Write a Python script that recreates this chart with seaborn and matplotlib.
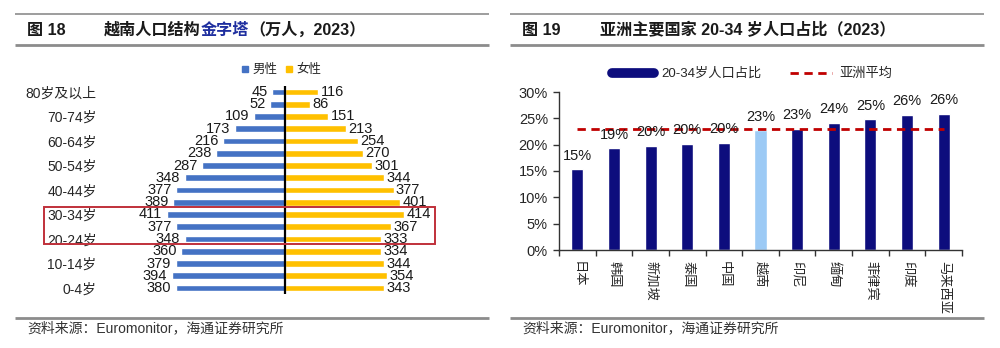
import matplotlib
matplotlib.use("Agg")
import matplotlib.pyplot as plt
import seaborn as sns
import pandas as pd
from matplotlib.lines import Line2D
from matplotlib.patches import Rectangle

# ---------------- data ----------------
age_groups = ["80岁及以上", "75-79岁", "70-74岁", "65-69岁", "60-64岁", "55-59岁",
              "50-54岁", "45-49岁", "40-44岁", "35-39岁", "30-34岁", "25-29岁",
              "20-24岁", "15-19岁", "10-14岁", "5-9岁", "0-4岁"]
male = [45, 52, 109, 173, 216, 238, 287, 348, 377, 389, 411, 377, 348, 360, 379, 394, 380]
female = [116, 86, 151, 213, 254, 270, 301, 344, 377, 401, 414, 367, 333, 334, 344, 354, 343]
shown_age_labels = ["80岁及以上", "70-74岁", "60-64岁", "50-54岁", "40-44岁",
                    "30-34岁", "20-24岁", "10-14岁", "0-4岁"]

countries = ["日本", "韩国", "新加坡", "泰国", "中国", "越南", "印尼", "缅甸", "菲律宾", "印度", "马来西亚"]
share = [0.153, 0.193, 0.197, 0.202, 0.204, 0.227, 0.230, 0.242, 0.248, 0.256, 0.258]
share_labels = ["15%", "19%", "20%", "20%", "20%", "23%", "23%", "24%", "25%", "26%", "26%"]
asia_avg = 0.230
y_ticks = [0, 0.05, 0.10, 0.15, 0.20, 0.25, 0.30]
y_tick_labels = ["0%", "5%", "10%", "15%", "20%", "25%", "30%"]

# ---------------- style ----------------
sns.set_theme(style="white")
FONT = ["Liberation Sans", "Noto Sans CJK SC", "DejaVu Sans"]
plt.rcParams["font.family"] = FONT
plt.rcParams["axes.unicode_minus"] = False

W, H = 1000, 348
fig = plt.figure(figsize=(W / 100, H / 100), dpi=100)
fig.patch.set_facecolor("white")


def fx(px):
    return px / W


def fy(py):
    return (H - py) / H


def hline(x0, x1, y, lw, color="#8c8c8c"):
    fig.add_artist(Line2D([fx(x0), fx(x1)], [fy(y), fy(y)], transform=fig.transFigure,
                          color=color, lw=lw, solid_capstyle="butt"))


# header / footer rules
for (a, b) in [(15, 489), (510, 984)]:
    hline(a, b, 14, 1.2)
    hline(a, b, 45, 2.0)
    hline(a, b, 318, 2.0)

TITLE_KW = dict(fontsize=11.6, fontweight="bold", va="center", color="#1a1a1a")
fig.text(fx(27), fy(30), "图 18", **TITLE_KW)
t1 = fig.text(fx(104), fy(30), "越南人口结构", **TITLE_KW)
fig.canvas.draw()
r = fig.canvas.get_renderer()
bb = t1.get_window_extent(r)
t2 = fig.text(bb.x1 / W, fy(30), "金字塔", **{**TITLE_KW, "color": "#1f2f9f"})
bb2 = t2.get_window_extent(r)
fig.text(bb2.x1 / W, fy(30), "（万人，2023）", **TITLE_KW)

fig.text(fx(522), fy(30), "图 19", **TITLE_KW)
fig.text(fx(600), fy(30), "亚洲主要国家 20-34 岁人口占比（2023）", **TITLE_KW)

SRC_KW = dict(fontsize=10, va="center", color="#333333")
fig.text(fx(27), fy(328), "资料来源：Euromonitor，海通证券研究所", **SRC_KW)
fig.text(fx(522), fy(328), "资料来源：Euromonitor，海通证券研究所", **SRC_KW)

# ---------------- left: population pyramid ----------------
MALE_C, FEMALE_C = "#4472C4", "#FFC000"
row_px = (288 - 92) / 16
ax1 = fig.add_axes([fx(105), fy(288 + row_px / 2), 0.36, (row_px * 17) / H])
df = pd.DataFrame({
    "age": age_groups * 2,
    "val": [-v for v in male] + female,
    "sex": ["男性"] * len(male) + ["女性"] * len(female),
})
sns.barplot(data=df, x="val", y="age", hue="sex", order=age_groups, orient="h",
            dodge=False, width=0.55, palette={"男性": MALE_C, "女性": FEMALE_C},
            legend=False, ax=ax1, saturation=1)
ax1.set_xlim(-625, 625)
ax1.set_ylim(16.5, -0.5)
ax1.axvline(0, color="black", lw=1.6)
for s in ax1.spines.values():
    s.set_visible(False)
ax1.set_xticks([])
ax1.set_xlabel("")
ax1.set_ylabel("")
ax1.set_yticks(range(len(age_groups)))
ax1.set_yticklabels([a if a in shown_age_labels else "" for a in age_groups], fontsize=10)
ax1.tick_params(axis="y", length=0, pad=6)
for i, (m, f) in enumerate(zip(male, female)):
    ax1.text(-m - 16, i, f"{m}", ha="right", va="center", fontsize=10.5, color="#1a1a1a")
    ax1.text(f + 8, i, f"{f}", ha="left", va="center", fontsize=10.5, color="#1a1a1a")

fig.add_artist(Rectangle((fx(44), fy(244)), fx(435 - 44), (244 - 207) / H,
                         transform=fig.transFigure, fill=False, ec="#c0303a", lw=1.4))

leg1_handles = [Line2D([], [], marker="s", ls="", color=MALE_C, markersize=5),
                Line2D([], [], marker="s", ls="", color=FEMALE_C, markersize=5)]
fig.legend(leg1_handles, ["男性", "女性"], loc="center", bbox_to_anchor=(fx(281), fy(70)),
           ncol=2, frameon=False, fontsize=9, handlelength=0.6, handletextpad=0.3,
           columnspacing=0.6)

# ---------------- right: bar chart ----------------
NAVY, LIGHT = "#0d0d7d", "#9ccaf5"
ax2 = fig.add_axes([fx(559), fy(250), fx(962 - 559), (250 - 92) / H])
df2 = pd.DataFrame({"country": countries, "share": share})
pal = {c: (LIGHT if c == "越南" else NAVY) for c in countries}
sns.barplot(data=df2, x="country", y="share", hue="country", palette=pal, width=0.33,
            legend=False, ax=ax2, saturation=1)
ax2.hlines(asia_avg, 0, len(countries) - 1, colors="#c00000", linestyles=(0, (3, 2)), lw=2)
ax2.set_ylim(0, 0.30)
ax2.set_xlim(-0.5, len(countries) - 0.5)
ax2.set_yticks(y_ticks)
ax2.set_yticklabels(y_tick_labels, fontsize=10.5)
ax2.set_xticks(range(len(countries)))
ax2.set_xticklabels(countries, rotation=270, fontsize=9.5, va="top", ha="center")
ax2.set_xticks([i - 0.5 for i in range(len(countries) + 1)], minor=True)
ax2.tick_params(axis="x", which="major", length=0, pad=8)
ax2.tick_params(axis="x", which="minor", length=4, width=1, direction="out", color="#333333",
                bottom=True)
ax2.tick_params(axis="y", length=4, width=1, direction="out", color="#333333", left=True, pad=4)
ax2.set_xlabel("")
ax2.set_ylabel("")
for side in ["top", "right"]:
    ax2.spines[side].set_visible(False)
for side in ["left", "bottom"]:
    ax2.spines[side].set_color("#333333")
    ax2.spines[side].set_linewidth(1)
for i, (v, lab) in enumerate(zip(share, share_labels)):
    ax2.text(i, v + 0.013, lab, ha="center", va="bottom", fontsize=10.5, color="#1a1a1a")

leg2_handles = [Line2D([], [], color=NAVY, lw=7),
                Line2D([], [], color="#c00000", lw=2, ls=(0, (3, 2)))]
fig.legend(leg2_handles, ["20-34岁人口占比", "亚洲平均"], loc="center",
           bbox_to_anchor=(fx(752), fy(74)), ncol=2, frameon=False, fontsize=9.5,
           handlelength=3.2, handletextpad=0.5, columnspacing=2.2)

fig.savefig("out.png", dpi=100)
